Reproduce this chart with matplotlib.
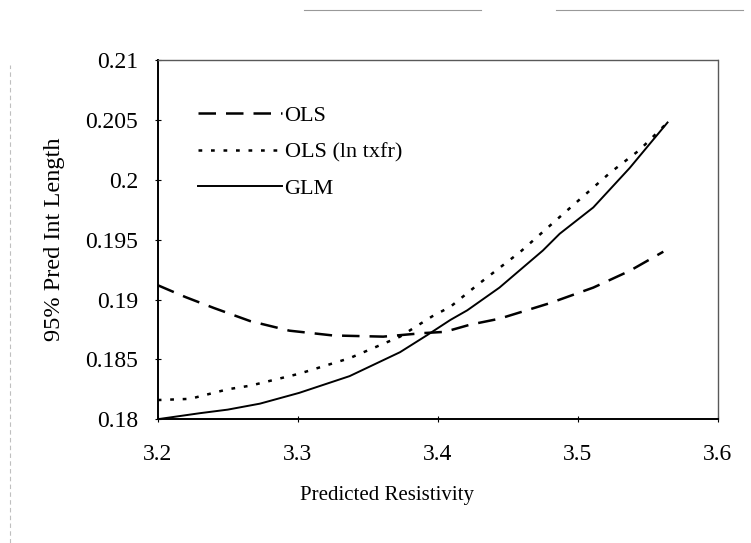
import matplotlib

matplotlib.use("Agg")
import matplotlib.pyplot as plt
from matplotlib.lines import Line2D

# values
ols_x = [3.200, 3.220, 3.240, 3.266, 3.294, 3.325, 3.361, 3.390, 3.405, 3.423,
         3.444, 3.480, 3.511, 3.537, 3.561]
ols_y = [0.1912, 0.1902, 0.1893, 0.1882, 0.1874, 0.1870, 0.1869, 0.1872, 0.1873, 0.1879,
         0.1884, 0.1897, 0.1910, 0.1924, 0.1940]

ln_x = [3.200, 3.223, 3.250, 3.266, 3.301, 3.337, 3.373, 3.396, 3.409, 3.428,
        3.459, 3.487, 3.523, 3.544, 3.564]
ln_y = [0.1816, 0.1817, 0.1825, 0.1828, 0.1838, 0.1851, 0.1869, 0.1886, 0.1894, 0.1912,
        0.1940, 0.1969, 0.2006, 0.2025, 0.2048]

glm_x = [3.200, 3.230, 3.250, 3.273, 3.301, 3.337, 3.373, 3.392, 3.409, 3.421,
         3.444, 3.475, 3.487, 3.511, 3.537, 3.564]
glm_y = [0.1800, 0.1805, 0.1808, 0.1813, 0.1822, 0.1836, 0.1856, 0.1870, 0.1883, 0.1891,
         0.1910, 0.1941, 0.1955, 0.1977, 0.2010, 0.2048]

x_ticks = [3.2, 3.3, 3.4, 3.5, 3.6]
x_tick_labels = ["3.2", "3.3", "3.4", "3.5", "3.6"]
y_ticks = [0.18, 0.185, 0.19, 0.195, 0.2, 0.205, 0.21]
y_tick_labels = ["0.18", "0.185", "0.19", "0.195", "0.2", "0.205", "0.21"]

plt.rcParams["font.family"] = ["Liberation Serif", "DejaVu Serif"]

fig = plt.figure(figsize=(7.51, 5.43), dpi=100)
ax = fig.add_axes([0.210, 0.228, 0.746, 0.661])

ax.plot(ols_x, ols_y, color="black", lw=1.8, ls=(0, (7, 4)), label="OLS")
ax.plot(ln_x, ln_y, color="black", lw=1.8, ls=(0, (1.5, 3.5)), label="OLS (ln txfr)")
ax.plot(glm_x, glm_y, color="black", lw=1.4, label="GLM")

ax.set_xlim(3.2, 3.6)
ax.set_ylim(0.18, 0.21)
ax.set_xticks(x_ticks)
ax.set_xticklabels(x_tick_labels)
ax.set_yticks(y_ticks)
ax.set_yticklabels(y_tick_labels)
ax.tick_params(axis="both", labelsize=17, direction="inout", length=4, width=0.8)
ax.tick_params(axis="x", pad=16)
ax.tick_params(axis="y", pad=12)

for side in ("top", "right"):
    ax.spines[side].set_linestyle((0, (1, 1)))
    ax.spines[side].set_color("0.35")
    ax.spines[side].set_linewidth(1.0)
for side in ("left", "bottom"):
    ax.spines[side].set_color("black")
    ax.spines[side].set_linewidth(1.4)

ax.set_xlabel("Predicted Resistivity", fontsize=15)
ax.xaxis.set_label_coords(0.41, -0.185)
ax.set_ylabel("95% Pred Int Length", fontsize=17.5)
ax.yaxis.set_label_coords(-0.165, 0.5)

ax.legend(loc="upper left", bbox_to_anchor=(0.036, 0.93), frameon=False,
          fontsize=16, handlelength=3.8, handletextpad=0.1, labelspacing=0.72)

# faint scan artefacts around the page edge
for x0, x1 in ((0.405, 0.64), (0.74, 0.99)):
    fig.add_artist(Line2D([x0, x1], [0.982, 0.982], color="0.6", lw=0.8))
fig.add_artist(Line2D([0.013, 0.013], [0.0, 0.88], color="0.75", lw=0.8, ls=(0, (4, 3))))

fig.savefig("out.png", dpi=100)
